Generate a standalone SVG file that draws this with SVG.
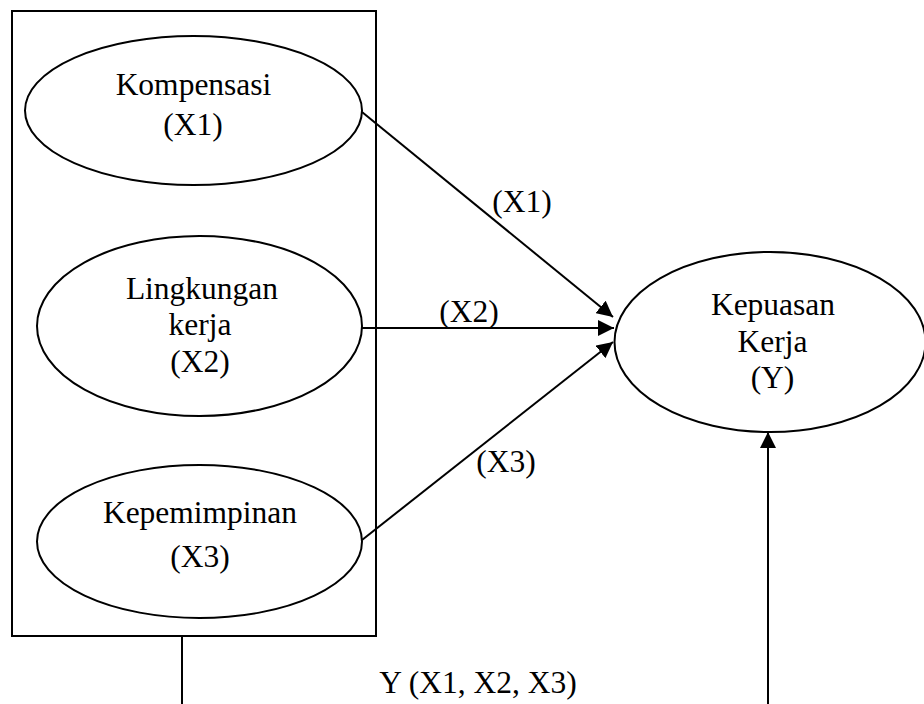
<svg xmlns="http://www.w3.org/2000/svg" width="924" height="704" viewBox="0 0 924 704" font-family="'Liberation Serif', 'DejaVu Serif', serif">
<style>
.s{fill:none;stroke:#000;stroke-width:2}
.n{fill:#fff;stroke:#000;stroke-width:2}
.t{font-family:'Liberation Serif', 'DejaVu Serif', serif;font-size:31.5px;fill:#000;text-anchor:middle}
</style>
<defs>
<marker id="ah" markerUnits="userSpaceOnUse" markerWidth="16" markerHeight="16" viewBox="0 0 16 16" refX="16" refY="8" orient="auto">
<path d="M0,0 L16,8 L0,16 Z" fill="#000"/>
</marker>
</defs>
<rect id="box" class="s" x="12" y="11" width="364" height="625"/>
<g id="n1">
<ellipse class="n" cx="193.5" cy="110.5" rx="168.5" ry="74.5"/>
<text class="t" x="193.5" y="95">Kompensasi</text>
<text class="t" x="193" y="135">(X1)</text>
</g>
<g id="n2">
<ellipse class="n" cx="199.5" cy="326" rx="162.5" ry="90"/>
<text class="t" x="202" y="299">Lingkungan</text>
<text class="t" x="200" y="335">kerja</text>
<text class="t" x="200" y="372">(X2)</text>
</g>
<g id="n3">
<ellipse class="n" cx="199.5" cy="541.5" rx="162.5" ry="76.5"/>
<text class="t" x="200" y="523">Kepemimpinan</text>
<text class="t" x="200" y="567">(X3)</text>
</g>
<g id="n4">
<ellipse class="n" cx="770" cy="342" rx="155.5" ry="90"/>
<text class="t" x="773" y="315">Kepuasan</text>
<text class="t" x="772.5" y="352">Kerja</text>
<text class="t" x="772.5" y="388">(Y)</text>
</g>
<g id="connectors">
<line class="s" x1="362" y1="112" x2="613" y2="317" marker-end="url(#ah)"/>
<line class="s" x1="362" y1="328" x2="614" y2="328" marker-end="url(#ah)"/>
<line class="s" x1="362" y1="540" x2="613" y2="342" marker-end="url(#ah)"/>
<line class="s" x1="182" y1="636" x2="182" y2="704"/>
<line class="s" x1="768" y1="704" x2="768" y2="432" marker-end="url(#ah)"/>
</g>
<g id="labels">
<text class="t" x="522" y="212">(X1)</text>
<text class="t" x="469" y="322">(X2)</text>
<text class="t" x="506" y="472">(X3)</text>
<text class="t" x="478" y="693">Y (X1, X2, X3)</text>
</g>
</svg>
